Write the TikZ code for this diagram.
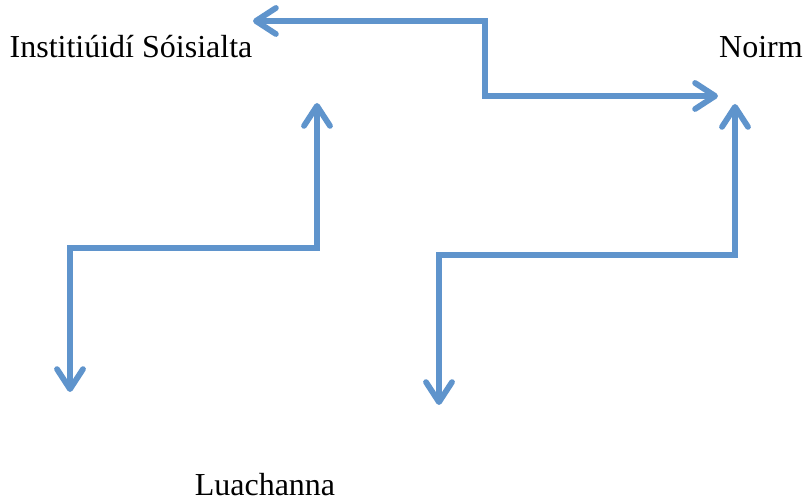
\documentclass[tikz,border=0pt]{standalone}
\usepackage{fontspec}
\setmainfont{Liberation Serif}
\usetikzlibrary{arrows.meta}
\definecolor{arrowblue}{RGB}{95,148,204}

\begin{document}
\begin{tikzpicture}[
    x=0.5pt, y=-0.5pt,
    term/.style={
        font=\fontsize{16}{19}\selectfont,
        inner sep=0pt,
        anchor=base
    },
    link/.style={
        draw=arrowblue,
        line width=2.9pt,
        line join=miter,
        {Straight Barb[round, length=10pt, width=13pt]}-{Straight Barb[round, length=10pt, width=13pt]}
    }
]
\useasboundingbox (0,0) rectangle (805,501);

% Labels
\node[term] (inst) at (131,58) {Institiúidí Sóisialta};
\node[term] (noirm) at (761,58) {Noirm};
\node[term] (luach) at (265,496) {Luachanna};

% Arrow ends
\coordinate (a1s) at (253,21);
\coordinate (a1e) at (718,96);
\coordinate (a2s) at (317,103);
\coordinate (a2e) at (70,392);
\coordinate (a3s) at (735,104);
\coordinate (a3e) at (439,405);

% Top arrow
\draw[link] (a1s) -- (485,21) -- (485,96) -- (a1e);

% Left arrow
\draw[link] (a2s) -- (317,248) -- (70,248) -- (a2e);

% Right arrow
\draw[link] (a3s) -- (735,255) -- (439,255) -- (a3e);

\end{tikzpicture}
\end{document}
